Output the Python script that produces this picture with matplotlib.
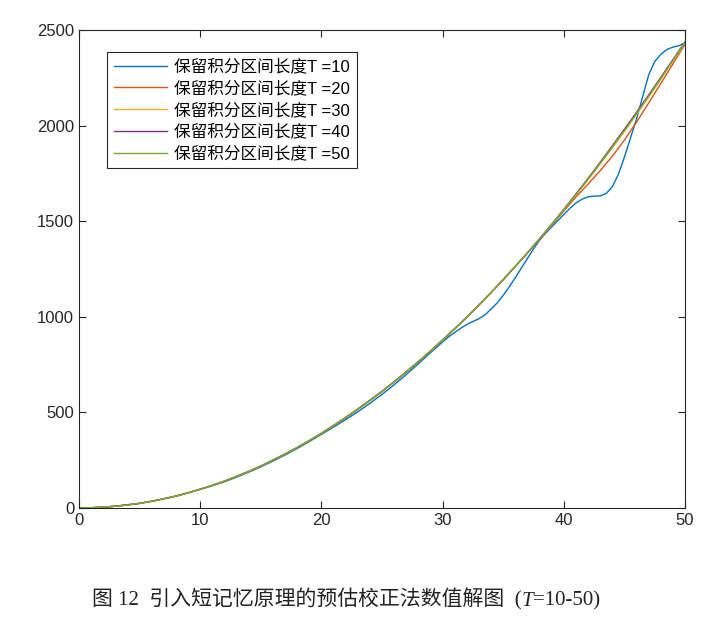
import numpy as np
import matplotlib
matplotlib.use('Agg')
import matplotlib.pyplot as plt

plt.rcParams['font.family'] = ['Liberation Sans', 'Noto Sans CJK SC', 'DejaVu Sans']
plt.rcParams['axes.unicode_minus'] = False

# 时间轴 t = 0..50
t = list(range(51))

# 各保留积分区间长度下的数值解
y_T50 = [0, 1, 4, 9, 16, 24, 35, 48, 62, 79,
         98, 118, 140, 165, 191, 219, 250, 282, 316, 352,
         390, 430, 472, 516, 562, 609, 659, 711, 764, 820,
         878, 937, 998, 1062, 1127, 1194, 1264, 1335, 1408, 1483,
         1560, 1639, 1720, 1803, 1888, 1974, 2063, 2154, 2246, 2341, 2436]
y_T40 = [0, 1, 4, 9, 16, 24, 35, 48, 62, 79,
         98, 118, 140, 165, 191, 219, 250, 282, 316, 352,
         390, 430, 472, 516, 562, 609, 659, 711, 764, 820,
         878, 937, 998, 1062, 1127, 1194, 1264, 1335, 1408, 1484,
         1562, 1642, 1724, 1808, 1894, 1981, 2070, 2160, 2252, 2345, 2438]
y_T30 = [0, 1, 4, 9, 16, 24, 35, 48, 62, 79,
         98, 118, 140, 165, 191, 219, 250, 282, 316, 352,
         390, 430, 472, 516, 562, 609, 659, 711, 764, 820,
         877, 936, 997, 1061, 1126, 1193, 1263, 1334, 1407, 1482,
         1559, 1637, 1717, 1799, 1883, 1969, 2058, 2149, 2242, 2337, 2434]
y_T20 = [0, 1, 4, 9, 16, 24, 35, 48, 62, 79,
         98, 118, 140, 165, 191, 219, 250, 282, 316, 352,
         391, 432, 474, 518, 564, 611, 661, 713, 766, 822,
         879, 938, 999, 1062, 1127, 1194, 1263, 1333, 1405, 1479,
         1553, 1626, 1694, 1764, 1840, 1924, 2018, 2118, 2220, 2322, 2426]

# T=10 振荡较大，后半段按 0.5 取点
t_T10 = list(range(30)) + [29.5 + 0.5 * i for i in range(42)]
y_T10 = [0, 1, 4, 9, 16, 24, 35, 48, 62, 79,
         97, 116, 137, 161, 187, 215, 245, 277, 311, 347,
         385, 423, 462, 503, 547, 594, 644, 698, 754, 812,
         840, 868, 895, 918, 940, 960, 975, 990, 1010, 1040,
         1072, 1112, 1157, 1205, 1255, 1305, 1355, 1400, 1437, 1470,
         1503, 1535, 1567, 1595, 1615, 1627, 1631, 1632, 1645, 1680,
         1745, 1835, 1935, 2035, 2150, 2265, 2335, 2372, 2398, 2410,
         2418, 2432]

labels = ['保留积分区间长度T =10', '保留积分区间长度T =20', '保留积分区间长度T =30',
          '保留积分区间长度T =40', '保留积分区间长度T =50']
colors = ['#0072BD', '#D95319', '#EDB120', '#7E2F8E', '#77AC30']

fig = plt.figure(figsize=(7.15, 6.24), dpi=100)
ax = fig.add_axes([0.1105, 0.186, 0.8476, 0.766])

series = [(t_T10, y_T10), (t, y_T20), (t, y_T30), (t, y_T40), (t, y_T50)]
for (xs, ys), lab, c in zip(series, labels, colors):
    ax.plot(xs, ys, color=c, lw=1.0, label=lab)

ax.set_xlim(0, 50)
ax.set_ylim(0, 2500)
ax.set_xticks([0, 10, 20, 30, 40, 50])
ax.set_yticks([0, 500, 1000, 1500, 2000, 2500])
ax.tick_params(direction='in', top=True, right=True, length=5, width=0.8,
               colors='#262626', labelsize=12, labelcolor='#262626')
for s in ax.spines.values():
    s.set_color('#262626')
    s.set_linewidth(0.8)

leg = ax.legend(loc='upper left', bbox_to_anchor=(0.046, 0.954), borderaxespad=0,
                fancybox=False, framealpha=1, edgecolor='#262626',
                prop={'family': ['Liberation Sans', 'Noto Sans CJK SC'], 'size': 12},
                handlelength=3.2, labelspacing=0.36, handletextpad=0.45,
                borderpad=0.4)
leg.get_frame().set_linewidth(0.8)

# 图题（T 为斜体，分段拼接）
cap_font = ['Liberation Serif', 'Noto Sans CJK SC']
cap_y = 0.029
parts = [('图 12  引入短记忆原理的预估校正法数值解图  (', 'normal'),
         ('T', 'italic'),
         ('=10-50)', 'normal')]
fig.canvas.draw()
renderer = fig.canvas.get_renderer()
x = 0.129
for txt, st in parts:
    tt = fig.text(x, cap_y, txt, family=cap_font, style=st, fontsize=15,
                  va='baseline', color='#222222')
    bb = tt.get_window_extent(renderer=renderer)
    x = bb.x1 / fig.bbox.width

plt.savefig('out.png', dpi=100)
